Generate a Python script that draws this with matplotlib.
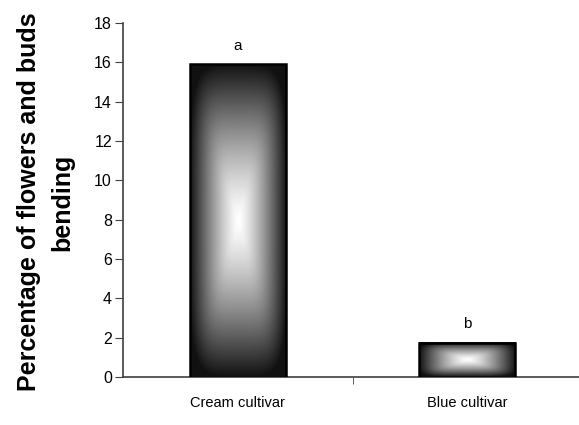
import numpy as np
import matplotlib
matplotlib.use("Agg")
import matplotlib.pyplot as plt

categories = ["Cream cultivar", "Blue cultivar"]
values = [15.9, 1.75]
letters = ["a", "b"]
yticks = [0, 2, 4, 6, 8, 10, 12, 14, 16, 18]

plt.rcParams['font.family'] = ['Liberation Sans', 'DejaVu Sans']

fig = plt.figure(figsize=(5.79, 4.25), dpi=100)
W, H = 579, 425
ax = fig.add_axes([123 / W, 1 - 377 / H, (582 - 123) / W, (377 - 23) / H])

x = np.arange(len(categories))
bw = 0.42
bars = ax.bar(x, values, width=bw, color='none', edgecolor='black', linewidth=1.8, zorder=3)

# rectangular gradient fill: dark at edges, white in centre
n = 300
u = np.linspace(-1, 1, n)
U, V = np.meshgrid(u, u)
p = 5.0
T = np.clip((np.abs(U) ** p + np.abs(V) ** p) ** (1 / p), 0, 1)
shade = 1 - 0.93 * T ** 1.3
for b in bars:
    x0, y0 = b.get_x(), b.get_y()
    w, h = b.get_width(), b.get_height()
    ax.imshow(shade, cmap='gray', vmin=0, vmax=1, extent=[x0, x0 + w, y0, y0 + h],
              aspect='auto', interpolation='bilinear', zorder=2)

for xi, v, l in zip(x, values, letters):
    ax.text(xi, v + 0.6, l, ha='center', va='bottom', fontsize=11)

ax.set_xlim(-0.5, 1.5)
ax.set_ylim(0, 18)
ax.set_yticks(yticks)
ax.set_xticks(x)
ax.set_xticklabels(categories, fontsize=10.5)
ax.set_xticks([0.5], minor=True)
ax.tick_params(axis='x', which='major', length=0, pad=14)
ax.tick_params(axis='x', which='minor', length=5, direction='out', color='#404040')
ax.tick_params(axis='y', length=6, direction='out', labelsize=11.5, color='#404040', pad=2)

for s in ['top', 'right']:
    ax.spines[s].set_visible(False)
ax.spines['left'].set_color('#404040')
ax.spines['bottom'].set_color('#404040')
ax.spines['left'].set_linewidth(1.2)
ax.spines['bottom'].set_linewidth(1.2)

fig.text(46 / W, 1 - 202 / H, "Percentage of flowers and buds\nbending", fontsize=18,
         fontweight='bold', rotation=90, ha='center', va='center', linespacing=1.5)

fig.savefig("out.png", dpi=100)
